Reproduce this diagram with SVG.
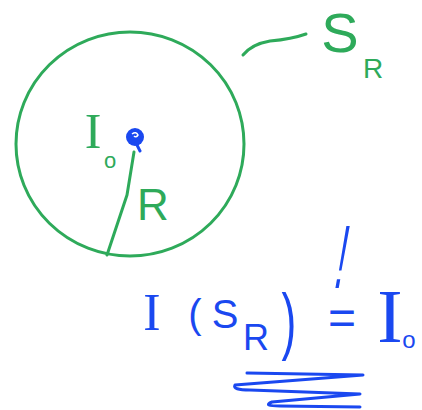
<svg xmlns="http://www.w3.org/2000/svg" width="422" height="410" viewBox="0 0 422 410">
<style>
.g{fill:none;stroke:#2eaa5a;stroke-width:3;stroke-linecap:round;stroke-linejoin:round}
.b{fill:none;stroke:#1a48f0;stroke-width:3;stroke-linecap:round;stroke-linejoin:round}
.tg{fill:#2eaa5a;font-family:"Liberation Sans",Arial,sans-serif;text-anchor:middle}
.tb{fill:#1a48f0;font-family:"Liberation Sans",Arial,sans-serif;text-anchor:middle}
.sr{font-family:"Liberation Serif","Times New Roman",serif}
</style>
<rect width="422" height="410" fill="#fff"/>
<g id="sphere">
<ellipse class="g" cx="130" cy="144" rx="114" ry="112"/>
</g>
<g id="center">
<circle cx="135" cy="137" r="9" fill="#1a48f0"/>
<path d="M132 134 q4 -3 6 1 q-2 3 -4 1" fill="none" stroke="#fff" stroke-width="1.5"/>
<path class="b" d="M136 143 l4 8"/>
</g>
<g id="connectors">
<path class="g" d="M134 152 L127 195 L107 255"/>
<path class="g" d="M243 55 Q252 44 270 41 Q292 39 306 34"/>
</g>
<g id="label-SR">
<text class="tg" x="340" y="52" font-size="56">S</text>
<text class="tg" x="373" y="78" font-size="28">R</text>
</g>
<g id="label-Io">
<text class="tg sr" x="93" y="148" font-size="50">I</text>
<text class="tg" x="110" y="168" font-size="22">o</text>
</g>
<g id="label-R">
<text class="tg" x="153" y="220" font-size="44">R</text>
</g>
<g id="equation">
<text class="tb sr" x="152" y="330" font-size="52">I</text>
<text class="tb" x="195" y="328" font-size="40">(</text>
<text class="tb" x="225" y="328" font-size="40">S</text>
<text class="tb" x="256" y="350" font-size="36">R</text>
<text class="tb" transform="translate(289 346) scale(0.6 1)" font-size="74">)</text>
<text class="tb" transform="translate(337 288) skewX(-10) scale(0.7 1.8)" font-size="50">!</text>
<text class="tb" x="342" y="334" font-size="48">=</text>
<text class="tb sr" x="390" y="342" font-size="76">I</text>
<text class="tb" x="409" y="348" font-size="24">o</text>
<path class="b" d="M247 373 L363 375 L235 385 Q232 390 250 390 L360 394 L272 402 Q262 406 280 406 L360 407"/>
</g>
</svg>
